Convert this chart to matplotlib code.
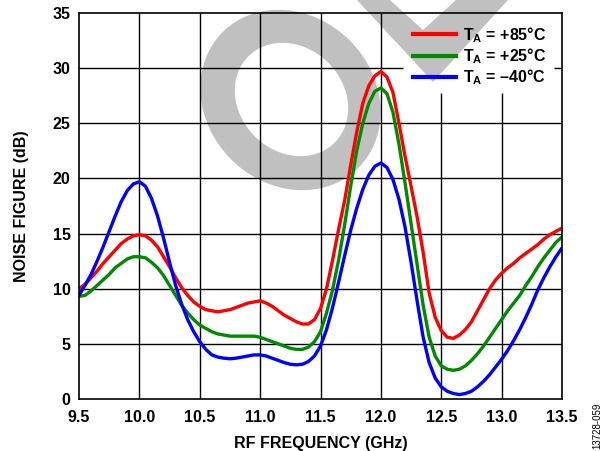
import matplotlib
matplotlib.use("Agg")
import matplotlib.pyplot as plt
from matplotlib.patches import Ellipse, Polygon
from matplotlib.transforms import Affine2D
from matplotlib.lines import Line2D

plt.rcParams["font.family"] = ["Liberation Sans", "DejaVu Sans"]
plt.rcParams["font.weight"] = "bold"
plt.rcParams["mathtext.fontset"] = "custom"
plt.rcParams["mathtext.rm"] = "Liberation Sans:bold"
plt.rcParams["mathtext.bf"] = "Liberation Sans:bold"
plt.rcParams["mathtext.it"] = "Liberation Sans:bold"
plt.rcParams["mathtext.default"] = "bf"

# RF frequency sample points (GHz)
freq_ghz = [9.50, 9.55, 9.60, 9.65, 9.70, 9.75, 9.80, 9.85, 9.90, 9.95,
            10.00, 10.05, 10.10, 10.15, 10.20, 10.25, 10.30, 10.35, 10.40, 10.45,
            10.50, 10.55, 10.60, 10.65, 10.70, 10.75, 10.80, 10.85, 10.90, 10.95,
            11.00, 11.05, 11.10, 11.15, 11.20, 11.25, 11.30, 11.35, 11.40, 11.45,
            11.50, 11.55, 11.60, 11.65, 11.70, 11.75, 11.80, 11.85, 11.90, 11.95,
            12.00, 12.05, 12.10, 12.15, 12.20, 12.25, 12.30, 12.35, 12.40, 12.45,
            12.50, 12.55, 12.60, 12.65, 12.70, 12.75, 12.80, 12.85, 12.90, 12.95,
            13.00, 13.05, 13.10, 13.15, 13.20, 13.25, 13.30, 13.35, 13.40, 13.45,
            13.50]

# Noise figure (dB) at TA = +85°C
nf_85c = [10.0, 10.4, 11.0, 11.6, 12.3, 12.9, 13.5, 14.1, 14.5, 14.8,
          14.9, 14.8, 14.4, 13.8, 12.9, 12.0, 11.0, 10.1, 9.4, 8.8,
          8.4, 8.1, 8.0, 7.9, 8.0, 8.1, 8.3, 8.5, 8.7, 8.8,
          8.9, 8.7, 8.4, 8.0, 7.6, 7.3, 7.0, 6.8, 6.8, 7.2,
          8.2, 10.0, 12.6, 15.4, 18.0, 21.2, 24.2, 26.8, 28.4, 29.3,
          29.7, 29.2, 27.8, 25.0, 22.0, 19.3, 16.5, 13.3, 9.6, 7.4,
          6.2, 5.6, 5.5, 5.8, 6.3, 7.0, 8.0, 9.0, 10.0, 10.8,
          11.4, 11.9, 12.3, 12.8, 13.2, 13.6, 14.0, 14.5, 14.9, 15.2,
          15.5]

# Noise figure (dB) at TA = +25°C
nf_25c = [9.3, 9.4, 9.8, 10.3, 10.8, 11.3, 11.9, 12.3, 12.7, 12.9,
          12.9, 12.8, 12.4, 11.9, 11.2, 10.3, 9.4, 8.5, 7.8, 7.2,
          6.7, 6.4, 6.1, 5.9, 5.8, 5.7, 5.7, 5.7, 5.7, 5.7,
          5.6, 5.4, 5.2, 5.0, 4.8, 4.6, 4.5, 4.5, 4.7, 5.2,
          6.1, 7.8, 9.9, 12.6, 15.8, 19.3, 22.5, 25.0, 26.8, 27.9,
          28.2, 27.7, 26.0, 23.1, 19.6, 15.9, 12.2, 8.5, 5.6, 3.9,
          3.0, 2.7, 2.6, 2.7, 3.0, 3.5, 4.1, 4.8, 5.6, 6.4,
          7.2, 8.0, 8.7, 9.4, 10.3, 11.1, 12.0, 12.8, 13.5, 14.2,
          14.7]

# Noise figure (dB) at TA = -40°C
nf_m40c = [9.4, 10.3, 11.3, 12.5, 13.8, 15.2, 16.6, 17.9, 18.9, 19.5,
           19.7, 19.3, 18.2, 16.6, 14.6, 12.4, 10.3, 8.6, 7.2, 6.1,
           5.2, 4.5, 4.0, 3.8, 3.7, 3.65, 3.7, 3.8, 3.9, 4.0,
           4.0, 3.9, 3.7, 3.5, 3.3, 3.15, 3.1, 3.15, 3.4, 3.9,
           4.8, 6.3, 8.3, 10.6, 13.0, 15.3, 17.3, 19.0, 20.3, 21.1,
           21.4, 21.0, 19.9, 18.1, 15.6, 12.4, 8.9, 5.6, 3.3, 1.9,
           1.1, 0.7, 0.5, 0.4, 0.5, 0.7, 1.1, 1.6, 2.2, 2.9,
           3.6, 4.4, 5.3, 6.3, 7.4, 8.6, 9.9, 11.0, 12.0, 12.9,
           13.7]

series_labels = ["T$_{A}$ = +85°C", "T$_{A}$ = +25°C", "T$_{A}$ = –40°C"]
series_colors = ["#FF0000", "#008A00", "#0000FF"]

x_ticks = [9.5, 10.0, 10.5, 11.0, 11.5, 12.0, 12.5, 13.0, 13.5]
y_ticks = [0, 5, 10, 15, 20, 25, 30, 35]

W, H = 605, 451
fig = plt.figure(figsize=(W / 100, H / 100), dpi=100)
ax = fig.add_axes([79 / W, 1 - 399 / H, (562 - 79) / W, (399 - 13) / H])
ax.set_xlim(x_ticks[0], x_ticks[-1])
ax.set_ylim(y_ticks[0], y_ticks[-1])

# pixel frame with origin at the top-left corner of the figure
px = Affine2D().scale(1 / W, -1 / H).translate(0, 1) + fig.transFigure

# grey watermark shapes behind the grid
wm = "#C0C0C0"
ax.add_patch(Ellipse((290.5, 100), 192, 168, angle=45, facecolor=wm,
                     edgecolor="none", transform=px, zorder=0.5, clip_on=False))
ax.add_patch(Ellipse((291.5, 99.5), 122, 104, angle=45, facecolor="white",
                     edgecolor="none", transform=px, zorder=0.6, clip_on=False))
ax.add_patch(Polygon([(357, 0), (433, 82), (508, 0), (456, 0), (423, 30), (390, 0)],
                     closed=True, facecolor=wm, edgecolor="none",
                     transform=px, zorder=0.5, clip_on=False))

for vals, lab, col in zip([nf_85c, nf_25c, nf_m40c], series_labels, series_colors):
    ax.plot(freq_ghz, vals, color=col, lw=2.4, solid_capstyle="round",
            solid_joinstyle="round", zorder=3, label=lab)

handles = [Line2D([], [], color=c, lw=3.0) for c in series_colors]
leg = ax.legend(handles, series_labels, loc="upper left",
                bbox_to_anchor=(413 / W, 1 - 25 / H), bbox_transform=fig.transFigure,
                frameon=False, borderpad=0, borderaxespad=0,
                handlelength=2.7, handletextpad=0.4, labelspacing=0.1,
                prop={"family": "Liberation Sans", "weight": "bold", "size": 11.5})

ax.set_xticks(x_ticks)
ax.set_xticklabels([f"{v:.1f}" for v in x_ticks])
ax.set_yticks(y_ticks)
ax.set_yticklabels([str(v) for v in y_ticks])
ax.tick_params(axis="both", length=0, labelsize=11.5)
ax.tick_params(axis="x", pad=8)
ax.tick_params(axis="y", pad=6)
for s in ax.spines.values():
    s.set_linewidth(1.2)
    s.set_color("black")
    s.set_zorder(4)

ax.set_xlabel("RF FREQUENCY (GHz)", fontsize=11.5, fontweight="bold", labelpad=8)
ax.set_ylabel("NOISE FIGURE (dB)", fontsize=11.5, fontweight="bold", labelpad=17)

# grid lines leave a clear area around the legend
fig.canvas.draw()
bb = leg.get_window_extent()
inv = ax.transData.inverted()
(gx0, gy0) = inv.transform((bb.x0 - 10, bb.y0 - 6))
(gx1, _) = inv.transform((bb.x1 + 8, bb.y1))
ytop = y_ticks[-1]
for xv in x_ticks[1:-1]:
    top = gy0 if gx0 <= xv <= gx1 else ytop
    ax.vlines(xv, y_ticks[0], top, color="black", lw=1.0, zorder=1)
for yv in y_ticks[1:-1]:
    if yv >= gy0:
        ax.hlines(yv, x_ticks[0], gx0, color="black", lw=1.0, zorder=1)
        ax.hlines(yv, gx1, x_ticks[-1], color="black", lw=1.0, zorder=1)
    else:
        ax.hlines(yv, x_ticks[0], x_ticks[-1], color="black", lw=1.0, zorder=1)

fig.text(597 / W, 1 - 426 / H, "13728-059", rotation=90, fontsize=7,
         fontweight="normal", ha="center", va="center")

fig.savefig("out.png", dpi=100, facecolor="white")
